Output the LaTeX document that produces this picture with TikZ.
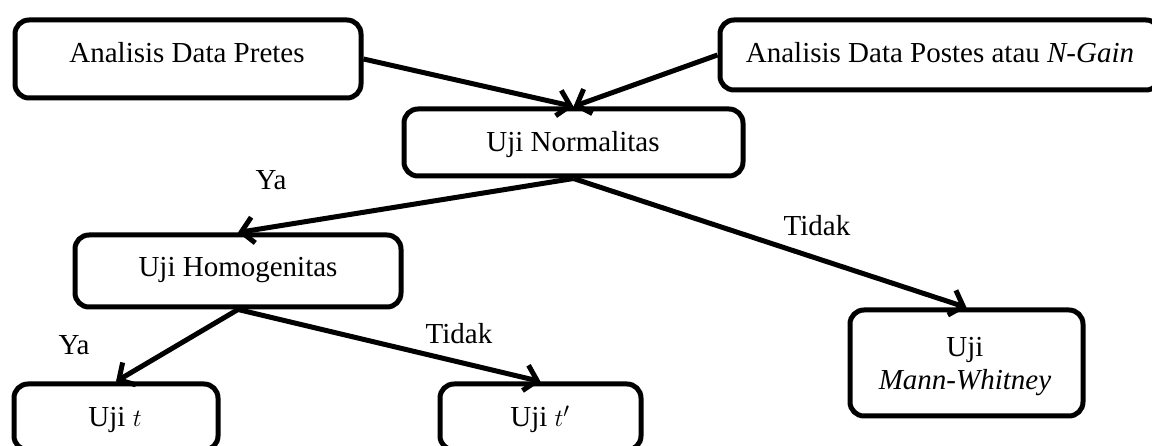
\documentclass[tikz,border=0pt]{standalone}
\usepackage{fontspec}
\setmainfont{Liberation Serif}
\usetikzlibrary{arrows.meta}
\begin{document}
\begin{tikzpicture}[x=1pt,y=-1pt,
  box/.style={draw=black, line width=5pt, rounded corners=14pt, inner sep=0pt},
  lbl/.style={anchor=base, inner sep=0pt, font=\fontsize{29}{33}\selectfont},
  conn/.style={line width=5pt, -{Straight Barb[length=12pt,width=26pt]}}]
\useasboundingbox (0,0) rectangle (1152,446);
\fill[white] (0,0) rectangle (1152,446);
% boxes
\node[box, minimum width=346pt, minimum height=78pt] (A) at (188,59) {};
\node[box, minimum width=440pt, minimum height=70pt] (B) at (940,55) {};
\node[box, minimum width=339pt, minimum height=67pt] (C) at (573.5,142.5) {};
\node[box, minimum width=326pt, minimum height=72pt] (D) at (238,271) {};
\node[box, minimum width=204pt, minimum height=66pt] (E) at (116,417) {};
\node[box, minimum width=201pt, minimum height=66pt] (F) at (540.5,417) {};
\node[box, minimum width=233pt, minimum height=106pt] (G) at (966.5,363) {};
% texts
\node[lbl] (At) at (187,63) {Analisis Data Pretes};
\node[lbl] (Bt) at (940,63) {Analisis Data Postes atau \textit{N-Gain}};
\node[lbl] (Ct) at (573,152) {Uji Normalitas};
\node[lbl] (Dt) at (238,277) {Uji Homogenitas};
\node[lbl] (Et) at (115,426) {Uji $t$};
\node[lbl] (Ft) at (540,427) {Uji $t'$};
\node[lbl] (Gt1) at (965,357) {Uji};
\node[lbl] (Gt2) at (965,390) {\textit{Mann-Whitney}};
\node[lbl] (ya1) at (271,190) {Ya};
\node[lbl] (td1) at (817,236) {Tidak};
\node[lbl] (ya2) at (74,355) {Ya};
\node[lbl] (td2) at (459,344) {Tidak};
% connectors
\draw[conn] (A.east) -- (C.north);
\draw[conn] (B.west) -- (C.north);
\draw[conn] (C.south) -- (D.north);
\draw[conn] (C.south) -- (G.north);
\draw[conn] (D.south) -- (E.north);
\draw[conn] (D.south) -- (F.north);
\end{tikzpicture}
\end{document}
